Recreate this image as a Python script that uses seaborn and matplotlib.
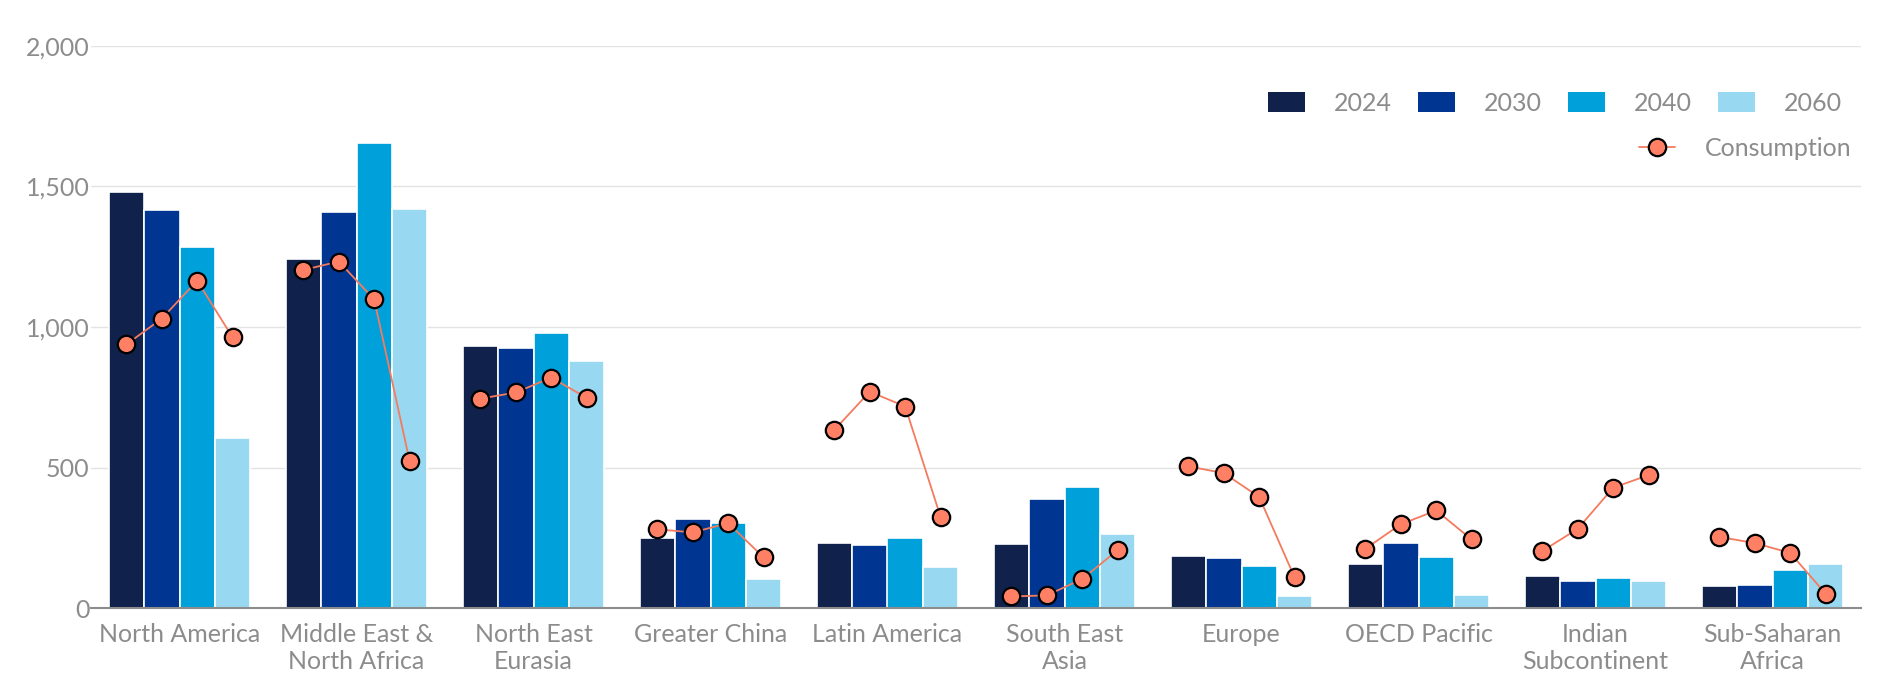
import matplotlib
matplotlib.use("Agg")
import matplotlib.pyplot as plt
import seaborn as sns
import pandas as pd
from matplotlib.lines import Line2D
from matplotlib.patches import Patch
from matplotlib.ticker import FuncFormatter

# ---- data -------------------------------------------------------------
regions = [
    "North America", "Middle East &\nNorth Africa", "North East\nEurasia",
    "Greater China", "Latin America", "South East\nAsia", "Europe",
    "OECD Pacific", "Indian\nSubcontinent", "Sub-Saharan\nAfrica",
]
years = ["2024", "2030", "2040", "2060"]

prod_2024 = [1480, 1242, 933, 249, 232, 229, 185, 156, 113, 78]
prod_2030 = [1415, 1411, 927, 317, 224, 388, 178, 232, 97, 83]
prod_2040 = [1283, 1655, 979, 304, 249, 431, 148, 182, 107, 137]
prod_2060 = [606, 1421, 879, 104, 147, 264, 44, 47, 97, 155]

cons_2024 = [938, 1203, 745, 280, 634, 41, 504, 211, 203, 253]
cons_2030 = [1030, 1233, 767, 269, 770, 45, 480, 298, 282, 231]
cons_2040 = [1165, 1098, 820, 302, 717, 103, 395, 347, 428, 196]
cons_2060 = [963, 523, 748, 180, 324, 206, 109, 244, 473, 51]

yticks = [0, 500, 1000, 1500, 2000]

# ---- styling ----------------------------------------------------------
bar_colors = ["#10214B", "#003591", "#00A0DA", "#98D8F0"]
line_color = "#F47B5E"
marker_fill = "#FF8064"
text_grey = "#8C8C8C"
grid_grey = "#E3E3E3"

sns.set_theme(style="white")
plt.rcParams["font.family"] = ["Lato", "DejaVu Sans"]

production = {"2024": prod_2024, "2030": prod_2030, "2040": prod_2040, "2060": prod_2060}
consumption = {"2024": cons_2024, "2030": cons_2030, "2040": cons_2040, "2060": cons_2060}

rows = []
for y in years:
    for r, p, c in zip(regions, production[y], consumption[y]):
        rows.append({"region": r, "year": y, "production": p, "consumption": c})
df = pd.DataFrame(rows)

fig = plt.figure(figsize=(18.95, 6.76), dpi=100)
ax = fig.add_axes([91 / 1895, 1 - 608 / 676, 1770 / 1895, (608 - 46) / 676])

sns.barplot(
    data=df, x="region", y="production", hue="year",
    order=regions, hue_order=years, palette=bar_colors, saturation=1,
    width=0.8, edgecolor="white", linewidth=1.2,
    errorbar=None, legend=False, ax=ax, zorder=2,
)

# consumption line per region, drawn through the centres of its bars
centres = [[b.get_x() + b.get_width() / 2 for b in cont] for cont in ax.containers]
for i, r in enumerate(regions):
    xs = [centres[j][i] for j in range(len(years))]
    ys = [consumption[y][i] for y in years]
    ax.plot(xs, ys, color=line_color, lw=1.3, marker="o", ms=12.5,
            mfc=marker_fill, mec="black", mew=1.6, zorder=4)

# axes
ax.set_xlim(-0.5, len(regions) - 0.5)
ax.set_ylim(0, 2000)
ax.set_yticks(yticks)
ax.yaxis.set_major_formatter(FuncFormatter(lambda v, _: f"{int(v):,}"))
ax.grid(axis="y", color=grid_grey, lw=1, zorder=0)
ax.set_axisbelow(True)
for s in ["top", "right", "left"]:
    ax.spines[s].set_visible(False)
ax.spines["bottom"].set_color(text_grey)
ax.spines["bottom"].set_linewidth(1.5)
ax.spines["bottom"].set_zorder(5)
ax.set_xlabel("")
ax.set_ylabel("")
ax.tick_params(axis="both", length=0, labelsize=18, labelcolor=text_grey)
ax.tick_params(axis="y", pad=1)
ax.tick_params(axis="x", pad=11)

# legends
bar_handles = [Patch(facecolor=c, edgecolor="none") for c in bar_colors]
leg1 = fig.legend(
    bar_handles, years, ncol=4, loc="center right",
    bbox_to_anchor=(1842 / 1895, 1 - 103.5 / 676), frameon=False,
    fontsize=18, labelcolor=text_grey, handlelength=1.48, handleheight=0.84,
    handletextpad=1.15, columnspacing=1.05, borderpad=0, borderaxespad=0,
)
cons_handle = Line2D([], [], color=line_color, lw=1.3, marker="o", ms=12.5,
                     mfc=marker_fill, mec="black", mew=1.6)
leg2 = fig.legend(
    [cons_handle], ["Consumption"], loc="center right",
    bbox_to_anchor=(1852 / 1895, 1 - 148 / 676), frameon=False,
    fontsize=18, labelcolor=text_grey, handlelength=1.45,
    handletextpad=1.2, borderpad=0, borderaxespad=0,
)

fig.savefig("out.png", dpi=100)
